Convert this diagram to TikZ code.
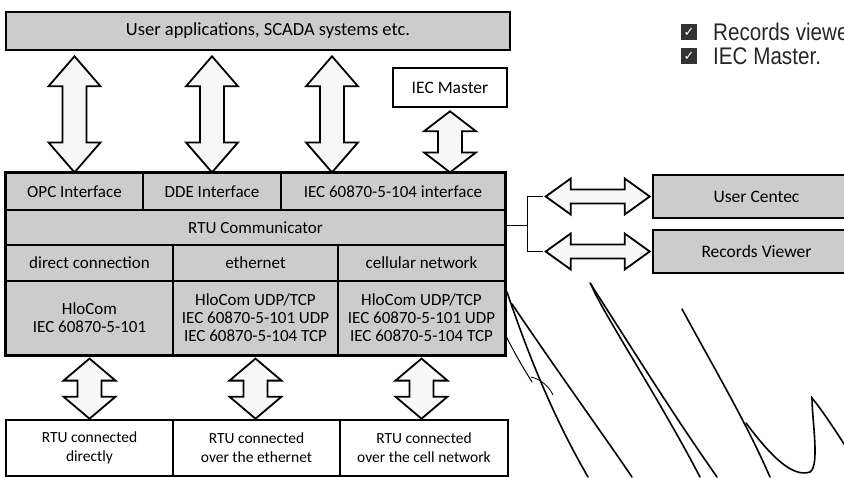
\documentclass[tikz,border=0pt]{standalone}
\usepackage{fontspec}
\setmainfont{Carlito}
\newfontfamily\bulletfont[FakeStretch=0.86]{Liberation Sans}
\newfontfamily\symfont{DejaVu Sans}
\usetikzlibrary{calc}
% fat double arrows: from tip #1 to tip #2, head length #3
\newcommand\fatv[3]{\draw[fatarr]let\p1=#1,\p2=#2 in(\x1,\y1)--(\x1+26pt,\y1-#3pt)--(\x1+12pt,\y1-#3pt)--(\x1+12pt,\y2+#3pt)--(\x1+26pt,\y2+#3pt)--(\x1,\y2)--(\x1-26pt,\y2+#3pt)--(\x1-12pt,\y2+#3pt)--(\x1-12pt,\y1-#3pt)--(\x1-26pt,\y1-#3pt)--cycle;}
\newcommand\fath[3]{\draw[fatarr]let\p1=#1,\p2=#2 in(\x1,\y1)--(\x1+#3pt,\y1+18pt)--(\x1+#3pt,\y1+7pt)--(\x2-#3pt,\y1+7pt)--(\x2-#3pt,\y1+18pt)--(\x2,\y1)--(\x2-#3pt,\y1-18pt)--(\x2-#3pt,\y1-7pt)--(\x1+#3pt,\y1-7pt)--(\x1+#3pt,\y1-18pt)--cycle;}
\begin{document}
\begin{tikzpicture}[x=1pt,y=-1pt,
  cell/.style={draw,line width=1.2pt,fill=gray!40,inner sep=0pt,align=center,font=\fontsize{17}{18}\selectfont},
  box/.style={draw,line width=2.6pt,inner sep=0pt,align=center,font=\fontsize{17.5}{19}\selectfont},
  rtubox/.style={box,fill=white,minimum height=56pt,font=\fontsize{15.5}{19}\selectfont},
  fatarr/.style={draw,line width=1.8pt,fill=gray!6,line join=miter},
  chk/.style={fill=black!80,text=white,inner sep=0pt,minimum size=16pt,font=\symfont\bfseries\fontsize{13}{13}\selectfont},
  bullet/.style={anchor=west,inner sep=0pt,text=black!85,font=\bulletfont\fontsize{24}{26}\selectfont},
  scrib/.style={line width=1.6pt,line cap=round}]
\path[use as bounding box](0,0)rectangle(844,477);\clip(0,0)rectangle(844,477);
% top
\node[box,fill=gray!40,minimum width=504pt,minimum height=38pt,font=\fontsize{18.5}{20}\selectfont](apps)at(258,31){\hspace*{20pt}User applications, SCADA systems etc.};
\node[box,fill=white,minimum width=114pt,minimum height=39pt](iecm)at(450,87.5){IEC Master};
% RTU Communicator block
\node[cell,minimum width=137pt,minimum height=37pt](opc)at(74.5,191.5){OPC Interface};
\node[cell,minimum width=138pt,minimum height=37pt](dde)at(212,191.5){DDE Interface};
\node[cell,minimum width=224pt,minimum height=37pt](i104)at(393,191.5){IEC 60870-5-104 interface};
\node[cell,minimum width=499pt,minimum height=35pt](rtu)at(255.5,227.5){RTU Communicator};
\foreach\n/\x/\w/\t in{dir/89.5/167/direct connection,eth/255.5/165/ethernet,cell/421.5/167/cellular network}
  \node[cell,minimum width=\w pt,minimum height=36pt](\n)at(\x,263){\t};
\node[cell,minimum width=167pt,minimum height=74pt](hlo1)at(89.5,318){HloCom\\IEC 60870-5-101};
\node[cell,minimum width=165pt,minimum height=74pt](hlo2)at(255.5,318){HloCom UDP/TCP\\IEC 60870-5-101 UDP\\IEC 60870-5-104 TCP};
\node[cell,minimum width=167pt,minimum height=74pt](hlo3)at(421.5,318){HloCom UDP/TCP\\IEC 60870-5-101 UDP\\IEC 60870-5-104 TCP};
\draw[line width=2.8pt](opc.north west)rectangle(hlo3.south east);
% RTUs
\node[rtubox,minimum width=167pt](rtu1)at(89.5,448){RTU connected\\directly};
\node[rtubox,minimum width=167pt](rtu2)at(256.5,448){RTU connected\\over the ethernet};
\node[rtubox,minimum width=168pt](rtu3)at(424,448){RTU connected\\over the cell network};
% right
\node[box,fill=gray!40,minimum width=207pt,minimum height=43pt](uc)at(756.5,196.5){User Centec};
\node[box,fill=gray!40,minimum width=207pt,minimum height=43pt](rv)at(756.5,251.5){Records Viewer};
\node[chk](k1)at(689,32){✓};\node[bullet](b1)at(713,32){Records viewer};
\node[chk](k2)at(689,56){✓};\node[bullet](b2)at(713,56){IEC Master.};
% arrows
\coordinate(a3)at(332,0);
\fatv{($(apps.south-|opc)+(0,5)$)}{(opc.north)}{30}
\fatv{($(apps.south-|dde)+(0,5)$)}{(dde.north)}{30}
\fatv{($(apps.south-|a3)+(0,5)$)}{(a3|-opc.north)}{30}
\fatv{($(iecm.south)+(0,3)$)}{(iecm.south|-i104.north)}{20}
\fatv{($(hlo1.south)+(0,3)$)}{(rtu1.north)}{22}
\fatv{($(hlo2.south)+(0,3)$)}{(rtu2.north)}{22}
\fatv{($(hlo3.south)+(0,3)$)}{(rtu3.north)}{22}
\fath{($(uc.west)+(-106,0)$)}{($(uc.west)+(-2,0)$)}{25}
\fath{($(rv.west)+(-106,0)$)}{($(rv.west)+(-2,0)$)}{25}
\coordinate(bk)at($(rtu.east)+(22,-2)$);
\draw[line width=1.5pt](rtu.east|-bk)--(bk);
\draw[line width=1.5pt]($(uc.west)+(-109,0)$)-|(bk)|-($(rv.west)+(-109,0)$);
% pen marks
\draw[scrib](507,292)..controls(530,360)and(555,420)..(588,477);
\draw[scrib](512,304)..controls(560,375)and(600,430)..(632,477);
\draw[scrib,line width=1pt](506,336)..controls(514,352)and(522,366)..(532,382);
\draw[scrib,line width=.8pt](531,377)..controls(540,379)and(549,386)..(553,395);
\draw[scrib](590,283)..controls(630,345)and(670,410)..(717,477);
\draw[scrib](591,284)..controls(598,305)and(660,400)..(700,477);
\draw[scrib](682,309)..controls(715,370)and(745,420)..(770,477);
\draw[scrib](746,423)..controls(770,455)and(792,478)..(810,472)..controls(820,466)and(812,420)..(812,398)..controls(822,410)and(835,430)..(846,447);
\end{tikzpicture}
\end{document}
